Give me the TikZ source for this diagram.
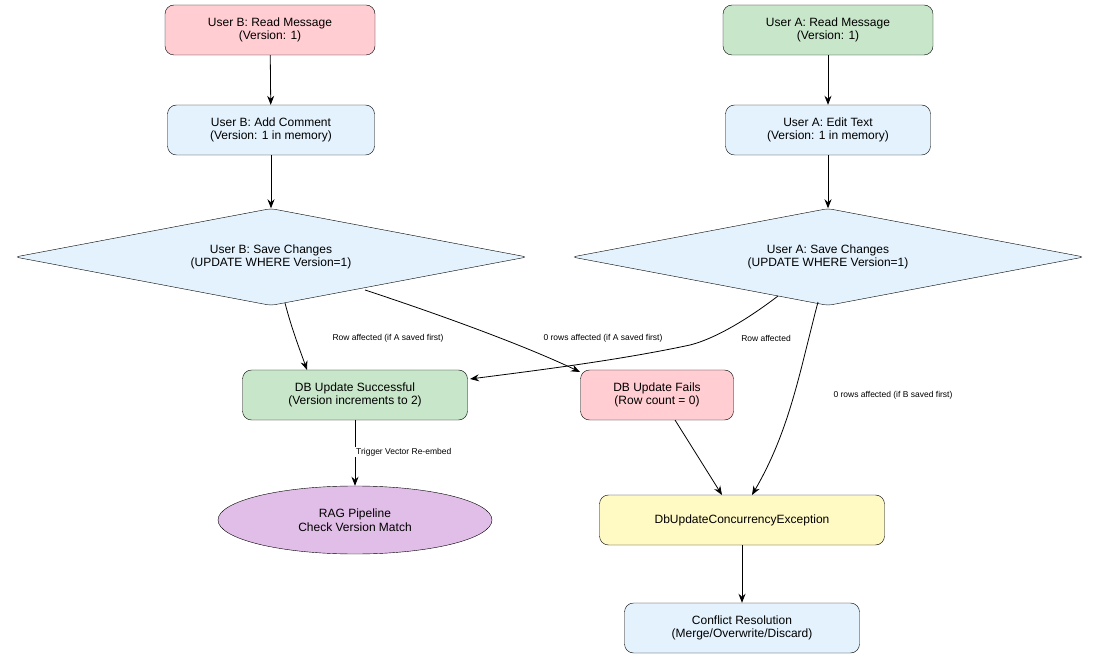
\documentclass[tikz,border=0pt]{standalone}
\usepackage{fontspec}
\setmainfont{Liberation Sans}
\usetikzlibrary{shapes.geometric,arrows.meta}
\definecolor{pk}{HTML}{FFCDD2}
\definecolor{gr}{HTML}{C8E6C9}
\definecolor{bl}{HTML}{E3F2FD}
\definecolor{yl}{HTML}{FFF9C4}
\definecolor{pu}{HTML}{E1BEE7}
\begin{document}
\begin{tikzpicture}[x=1pt,y=-1pt,
 box/.style={draw,rounded corners=9pt,align=center,font=\fontsize{12}{13.5}\selectfont,inner sep=0pt,minimum height=50pt},
 dia/.style={draw,diamond,aspect=5.3,align=center,font=\fontsize{12}{13.5}\selectfont,inner sep=0pt,minimum width=512pt,minimum height=97pt,fill=bl,rounded corners=4pt},
 lab/.style={font=\fontsize{8.5}{10}\selectfont,fill=white,inner sep=1pt},
 e/.style={-{Stealth[length=9pt,width=7pt]},line width=0.8pt}]
\useasboundingbox (0,0) rectangle (1101,660);
\node[box,fill=pk,minimum width=210pt] (br) at (270,30) {User B: Read Message\\(Version: 1)};
\node[box,fill=gr,minimum width=210pt] (ar) at (828,30) {User A: Read Message\\(Version: 1)};
\node[box,fill=bl,minimum width=207pt] (bc) at (271,130) {User B: Add Comment\\(Version: 1 in memory)};
\node[box,fill=bl,minimum width=205pt] (ae) at (828,130) {User A: Edit Text\\(Version: 1 in memory)};
\node[dia] (bs) at (271,257) {User B: Save Changes\\(UPDATE WHERE Version=1)};
\node[dia] (as) at (828,257) {User A: Save Changes\\(UPDATE WHERE Version=1)};
\node[box,fill=gr,minimum width=225pt] (dbs) at (355,395) {DB Update Successful\\(Version increments to 2)};
\node[box,fill=pk,minimum width=153pt] (dbf) at (657,395) {DB Update Fails\\(Row count = 0)};
\node[draw,ellipse,fill=pu,minimum width=274pt,minimum height=68pt,align=center,inner sep=0pt,font=\fontsize{12}{13.5}\selectfont] (rag) at (355,520) {RAG Pipeline\\Check Version Match};
\node[box,fill=yl,minimum width=285pt] (exc) at (742,520) {DbUpdateConcurrencyException};
\node[box,fill=bl,minimum width=235pt] (cr) at (742,628) {Conflict Resolution\\(Merge/Overwrite/Discard)};
\draw[e] (br) -- (bc);
\draw[e] (ar) -- (ae);
\draw[e] (bc) -- (bs);
\draw[e] (ae) -- (as);
\draw[e] (285,303) .. controls (292,330) and (300,350) .. (307,370);
\node[lab] at (388,338) {Row affected (if A saved first)};
\draw[e] (365,290) .. controls (450,318) and (530,348) .. (580,372);
\node[lab] at (603,338) {0 rows affected (if A saved first)};
\draw[e] (778,296) .. controls (740,325) and (710,340) .. (690,345) .. controls (620,360) and (540,370) .. (470,379);
\node[lab] at (766,338) {Row affected};
\draw[e] (818,302) .. controls (800,370) and (790,430) .. (752,495);
\node[lab] at (893,395) {0 rows affected (if B saved first)};
\draw[e] (675,420) -- (722,495);
\draw[e] (dbs) -- (rag);
\node[lab,anchor=west] at (355,452) {Trigger Vector Re-embed};
\draw[e] (exc) -- (cr);
\end{tikzpicture}
\end{document}
